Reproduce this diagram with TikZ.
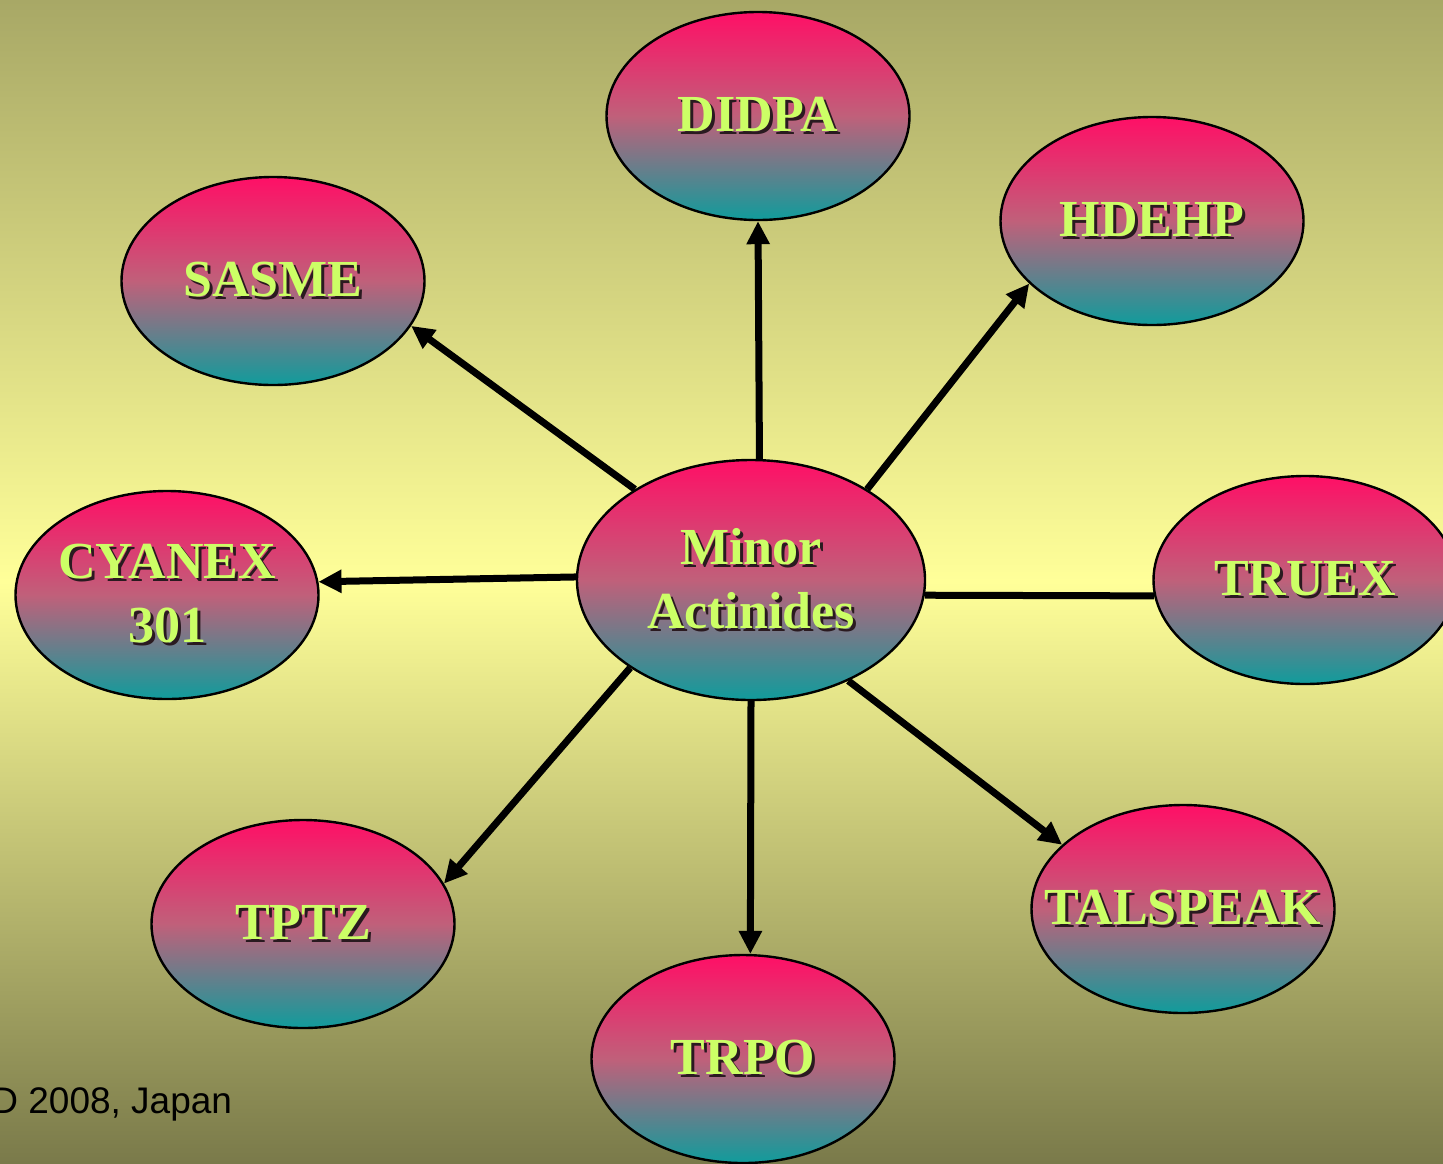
\documentclass[tikz,border=0pt]{standalone}
\usepackage{fontspec}
\setmainfont{Liberation Serif}
\newfontfamily\footfont{Liberation Sans}
\usetikzlibrary{arrows.meta,shapes.geometric}
\definecolor{bgtop}{HTML}{A8A866}
\definecolor{bgmid}{HTML}{FFFF99}
\definecolor{bgbot}{HTML}{7A7A4A}
\definecolor{elltop}{HTML}{FF0F66}
\definecolor{ellmid}{HTML}{C0607A}
\definecolor{ellbot}{HTML}{109C9C}
\definecolor{lbltext}{HTML}{CCFF66}
\definecolor{lblshadow}{HTML}{2A1A20}
\newcommand\shlbl[1]{\makebox[0pt]{\rlap{\raisebox{-1.5pt}{\kern1.5pt\textcolor{lblshadow}{#1}}}#1}}
\begin{document}
\begin{tikzpicture}[x=0.5pt,y=-0.5pt,
  ell/.style={ellipse, draw=black, line width=1.2pt,
    top color=elltop, bottom color=ellbot, middle color=ellmid,
    minimum width=151.5pt, minimum height=104pt, inner sep=0pt, align=center,
    font=\fontsize{26}{32}\selectfont\bfseries, text=lbltext},
  big/.style={ell, minimum width=174pt, minimum height=120pt},
  conn/.style={line width=3.5pt, draw=black},
  arr/.style={conn, -{Triangle[length=11.5pt,width=11pt]}}]
\useasboundingbox (0,0) rectangle (1443,1163);
\clip (0,0) rectangle (1443,1163);
\shade[top color=bgtop, bottom color=bgbot, middle color=bgmid] (0,0) rectangle (1443,1163);

\node[big] (c) at (751,580) {\shlbl{Minor}\\\shlbl{Actinides}};
\node[ell] (didpa) at (758,116) {\shlbl{DIDPA}};
\node[ell] (hdehp) at (1152,221) {\shlbl{HDEHP}};
\node[ell] (sasme) at (273,281) {\shlbl{SASME}};
\node[ell] (cyanex) at (167,595) {\shlbl{CYANEX}\\\shlbl{301}};
\node[ell] (truex) at (1305,580) {\shlbl{TRUEX}};
\node[ell] (tptz) at (303,924) {\shlbl{TPTZ}};
\node[ell] (trpo) at (743,1059) {\shlbl{TRPO}};
\node[ell] (tals) at (1183,909) {\shlbl{TALSPEAK}};

\draw[arr] (c.86) -- (didpa.270);
\draw[arr] (c.38) -- (hdehp.207);
\draw[arr] (c.142) -- (sasme.342);
\draw[arr] (c.179) -- (cyanex.5);
\draw[conn] (c.355) -- (truex.186);
\draw[arr] (c.314) -- (tals.152);
\draw[arr] (c.270) -- (trpo.86);
\draw[arr] (c.216) -- (tptz.16);

\node[anchor=base west, inner sep=0pt, font=\footfont\fontsize{18.5}{22}\selectfont] (foot) at (-9,1113) {D 2008, Japan};
\end{tikzpicture}
\end{document}
